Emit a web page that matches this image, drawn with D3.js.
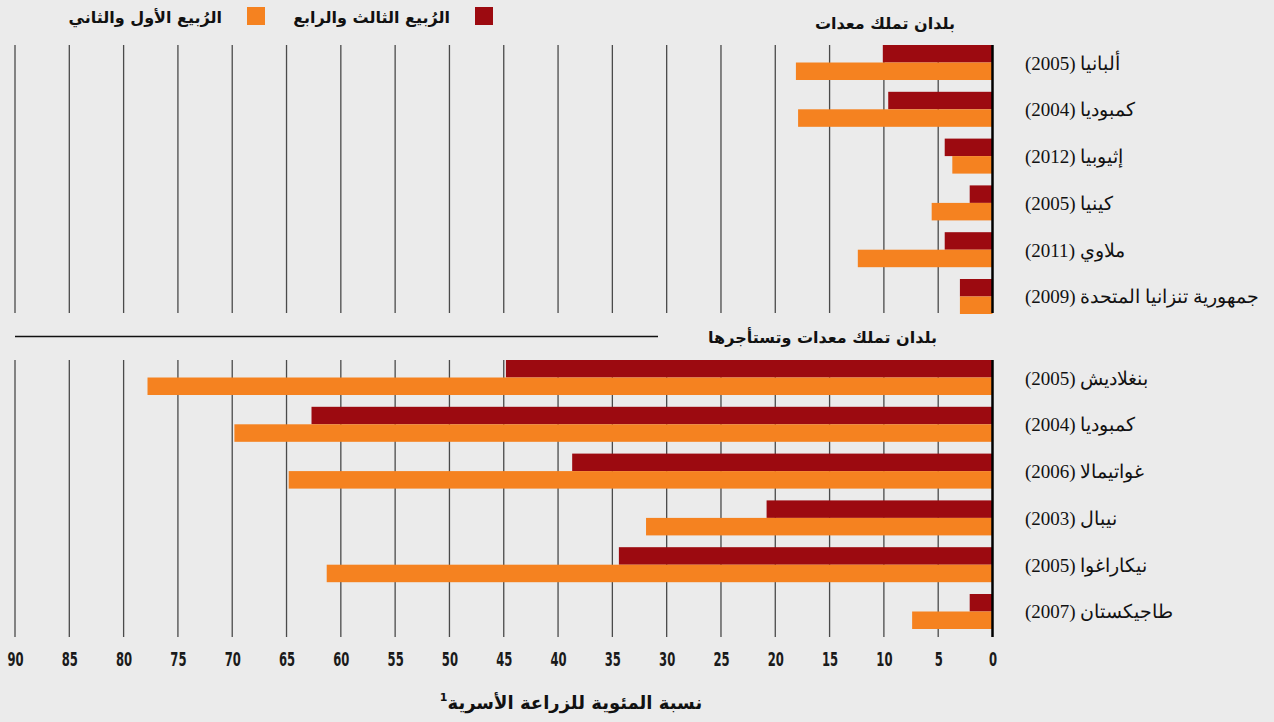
<!DOCTYPE html>
<html lang="ar">
<head>
<meta charset="utf-8" />
<title>نسبة المئوية للزراعة الأسرية</title>
<script src="https://d3js.org/d3.v7.min.js"></script>
<style>
    body { margin: 0; background: #ebebeb; }
    svg { display: block; }
    .grid line { stroke: #4a4a4a; stroke-width: 1.3px; }
    .zero { stroke: #000; stroke-width: 2.5px; }
    .label { font-family: "Liberation Serif", "DejaVu Serif", serif; font-size: 19px; fill: #111; }
    .head { font-family: "DejaVu Sans", sans-serif; font-size: 16px; font-weight: bold; fill: #111; }
    .axis text { font-family: "Liberation Sans Narrow", "DejaVu Sans Condensed", sans-serif; font-size: 19px; font-weight: bold; fill: #1a1a1a; }
</style>
</head>
<body>
<svg width="1274" height="722"></svg>
<script>
// values (percent of family farms)
var legendNames = ["الرُبيع الثالث والرابع", "الرُبيع الأول والثاني"];
var groupTitles = ["بلدان تملك معدات", "بلدان تملك معدات وتستأجرها"];

var countries1 = ["ألبانيا (2005)", "كمبوديا (2004)", "إثيوبيا (2012)", "كينيا (2005)", "ملاوي (2011)", "جمهورية تنزانيا المتحدة (2009)"];
var upper1 = [10.1, 9.6, 4.4, 2.1, 4.4, 3.0];
var lower1 = [18.1, 17.9, 3.7, 5.6, 12.4, 3.0];

var countries2 = ["بنغلاديش (2005)", "كمبوديا (2004)", "غواتيمالا (2006)", "نيبال (2003)", "نيكاراغوا (2005)", "طاجيكستان (2007)"];
var upper2 = [44.8, 62.7, 38.7, 20.8, 34.4, 2.1];
var lower2 = [77.8, 69.8, 64.8, 31.9, 61.3, 7.4];

var tickValues = d3.range(0, 95, 5);
var axisTitle = "نسبة المئوية للزراعة الأسرية";

var colors = ["#9c0a10", "#f58220"];

var svg = d3.select("svg");

var x = d3.scaleLinear().domain([0, 90]).range([992.5, 15]);

function drawGroup(names, upper, lower, top, gridBottom) {
    var y = d3.scaleBand()
        .domain(names)
        .range([top, top + 269])
        .paddingInner(0.252)
        .paddingOuter(0)
        .align(0);

    var g = svg.append("g");

    g.append("g").attr("class", "grid")
        .selectAll("line")
        .data(tickValues.filter(function (d) { return d > 0; }))
        .enter().append("line")
            .attr("x1", function (d) { return x(d); })
            .attr("x2", function (d) { return x(d); })
            .attr("y1", top)
            .attr("y2", gridBottom);

    var rows = g.selectAll(".row")
        .data(names)
        .enter().append("g")
            .attr("class", "row");

    rows.append("rect")
        .attr("x", function (d, i) { return x(upper[i]); })
        .attr("y", function (d) { return y(d); })
        .attr("width", function (d, i) { return x(0) - x(upper[i]); })
        .attr("height", y.bandwidth() / 2)
        .attr("fill", colors[0]);

    rows.append("rect")
        .attr("x", function (d, i) { return x(lower[i]); })
        .attr("y", function (d) { return y(d) + y.bandwidth() / 2; })
        .attr("width", function (d, i) { return x(0) - x(lower[i]); })
        .attr("height", y.bandwidth() / 2)
        .attr("fill", colors[1]);

    rows.append("text")
        .attr("class", "label")
        .attr("direction", "rtl")
        .attr("text-anchor", "end")
        .attr("x", 1025)
        .attr("y", function (d) { return y(d) + y.bandwidth() / 2 + 7; })
        .text(function (d) { return d; });

    g.append("line")
        .attr("class", "zero")
        .attr("x1", x(0)).attr("x2", x(0))
        .attr("y1", top).attr("y2", gridBottom);
}

drawGroup(countries1, upper1, lower1, 45, 313);
drawGroup(countries2, upper2, lower2, 360, 637);

// group headers
svg.append("text").attr("class", "head")
    .attr("direction", "rtl").attr("text-anchor", "start")
    .attr("x", 955).attr("y", 29)
    .text(groupTitles[0]);

svg.append("text").attr("class", "head")
    .attr("direction", "rtl").attr("text-anchor", "start")
    .attr("x", 937).attr("y", 343)
    .text(groupTitles[1]);

svg.append("line")
    .attr("x1", 15).attr("x2", 658)
    .attr("y1", 336.5).attr("y2", 336.5)
    .attr("stroke", "#111").attr("stroke-width", 1.3);

// x axis labels
var axis = svg.append("g")
    .attr("class", "axis")
    .attr("transform", "translate(0,648)")
    .call(d3.axisBottom(x).tickValues(tickValues).tickSize(0).tickPadding(4).tickFormat(d3.format("d")));
axis.select(".domain").remove();
axis.selectAll("text").attr("transform", "scale(0.68,1)");

var title = svg.append("text").attr("class", "head")
    .attr("direction", "rtl").attr("text-anchor", "middle")
    .attr("x", 571).attr("y", 709)
    .style("font-size", "18px");
title.append("tspan").text(axisTitle);
title.append("tspan").attr("dy", -8).style("font-size", "11px").text("1");

// legend
var legend = svg.append("g");
var legendX = [475, 247];
legend.selectAll("rect")
    .data(legendNames)
    .enter().append("rect")
        .attr("x", function (d, i) { return legendX[i]; })
        .attr("y", 7)
        .attr("width", 18).attr("height", 18)
        .attr("fill", function (d, i) { return colors[i]; });
legend.selectAll("text")
    .data(legendNames)
    .enter().append("text")
        .attr("class", "head")
        .attr("direction", "rtl").attr("text-anchor", "start")
        .attr("x", function (d, i) { return legendX[i] - 25; })
        .attr("y", 23)
        .text(function (d) { return d; });
</script>
</body>
</html>
